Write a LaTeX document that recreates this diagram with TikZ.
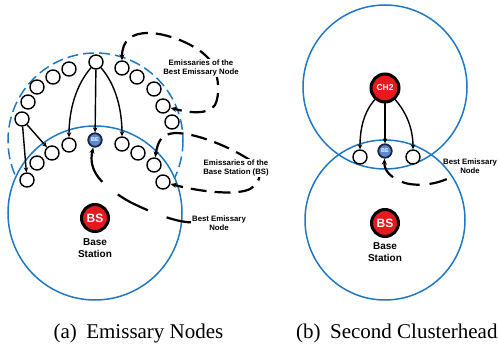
\documentclass[tikz,border=0pt]{standalone}
\usepackage{fontspec}
\setmainfont{Liberation Serif}
\setsansfont{Liberation Sans}
\usetikzlibrary{arrows.meta}
\definecolor{cblue}{HTML}{1F78C1}
\definecolor{cred}{HTML}{E5191E}
\definecolor{benavy}{HTML}{1A2440}
\definecolor{befill}{HTML}{5A8AD0}
\begin{document}
\begin{tikzpicture}[x=1pt,y=-1pt,
  emi/.style={circle,draw=black,line width=1.4pt,fill=white,minimum size=14pt,inner sep=0pt},
  benode/.style={circle,draw=benavy,line width=1.8pt,fill=befill,minimum size=13.5pt,inner sep=0pt,text=white,font=\sffamily\bfseries\fontsize{5.5}{5.5}\selectfont},
  bsnode/.style={circle,draw=black,line width=3pt,fill=cred,minimum size=27pt,inner sep=0pt,text=white,font=\sffamily\bfseries\fontsize{12}{12}\selectfont},
  rng/.style={draw=cblue,line width=1.5pt},
  rngdash/.style={draw=cblue,line width=1.5pt,dash pattern=on 11pt off 5pt},
  arr/.style={-{Stealth[length=5pt,width=4.5pt]},line width=1.4pt},
  loopline/.style={line width=2.2pt,dash pattern=on 16pt off 8pt,{Stealth[length=6pt,width=5pt]}-{Stealth[length=6pt,width=5pt]}},
  bealine/.style={line width=2.2pt,dash pattern=on 34pt off 20pt,{Stealth[length=6pt,width=5pt]}-},
  bebline/.style={line width=2.2pt,dash pattern=on 18pt off 10pt,{Stealth[length=6pt,width=5pt]}-},
  lbl/.style={fill=white,inner sep=1pt,align=center,font=\sffamily\bfseries\fontsize{7.8}{9.5}\selectfont},
  bstext/.style={align=center,inner sep=0pt,font=\sffamily\bfseries\fontsize{10}{11.5}\selectfont},
  capt/.style={inner sep=0pt,font=\fontsize{21}{24}\selectfont}
]
\useasboundingbox (0,0) rectangle (498,347);
% ---------- left panel ----------
\draw[rngdash] (95.5,140.5) circle (87.5);
\filldraw[fill=white,rng] (95,213) circle (87);
\node[bsnode] (BS) at (95,218) {BS};
\node[bstext] (BStxt) at (95,248) {Base\\Station};
\foreach \n/\x/\y in {o1/96/62,o2/122/68,o3/137/77,o4/154/89,o5/163/106,o6/172/122,
  o7/69/69,o8/53/77,o9/37/87,o10/28/102,o11/22/119,
  i1/69/145,i2/52/153,i3/37/163,i4/27/180,i5/122/144,i6/138/153,i7/154/165,i8/163/182}
  \node[emi] (\n) at (\x,\y) {};
\node[benode] (BE) at (95,140) {BE};
\draw[arr] (o1) .. controls (76,85) and (69,110) .. (i1);
\draw[arr] (o1) -- (BE);
\draw[arr] (o1) .. controls (116,85) and (122,110) .. (i5);
\draw[arr] (o11) -- (i2);
\draw[arr] (o11) -- (i4);
\draw[loopline] (o2) .. controls (122,40) and (132,33) .. (148,33)
  .. controls (170,33) and (205,48) .. (213,65)
  .. controls (219,78) and (220,95) .. (215,105)
  .. controls (208,115) and (190,113) .. (o5);
\draw[loopline] (i7) .. controls (158,140) and (162,134) .. (175,133)
  .. controls (195,133) and (225,145) .. (245,157)
  .. controls (265,168) and (262,182) .. (250,189)
  .. controls (238,195) and (205,193) .. (i8);
\node[lbl] (L1) at (201,68) {Emissaries of the\\Best Emissary Node};
\node[lbl] (L2) at (236,168) {Emissaries of the\\Base Station (BS)};
\node[lbl] (L3) at (219,223) {Best Emissary\\Node};
\draw[bealine] (BE) .. controls (88,170) and (100,185) .. (130,202)
  .. controls (150,212) and (175,222) .. (L3);
% ---------- right panel ----------
\draw[rng] (385,87) circle (82);
\draw[rng] (385,220) circle (80);
\node[bsnode,minimum size=28pt,font=\sffamily\bfseries\fontsize{8.5}{8.5}\selectfont] (CH2) at (385,88) {CH2};
\node[bsnode] (BS2) at (385,223) {BS};
\node[bstext] (BS2txt) at (385,252) {Base\\Station};
\node[emi] (r1) at (360,157) {};
\node[emi] (r2) at (413,157) {};
\node[benode] (BE2) at (385,151) {BE};
\draw[arr] (CH2) .. controls (364,112) and (360,128) .. (r1);
\draw[arr] (CH2) -- (BE2);
\draw[arr] (CH2) .. controls (406,112) and (413,128) .. (r2);
\node[lbl,fill=none] (L4) at (470,166) {Best Emissary\\Node};
\draw[bebline] (BE2) .. controls (384,170) and (390,178) .. (405,183)
  .. controls (420,187) and (440,184) .. (L4);
% ---------- captions ----------
\node[capt] (capa) at (138.5,333) {(a)\hspace{0.45em}Emissary Nodes};
\node[capt,anchor=west] (capb) at (296,333) {(b)\hspace{0.45em}Second Clusterhead};
\end{tikzpicture}
\end{document}
